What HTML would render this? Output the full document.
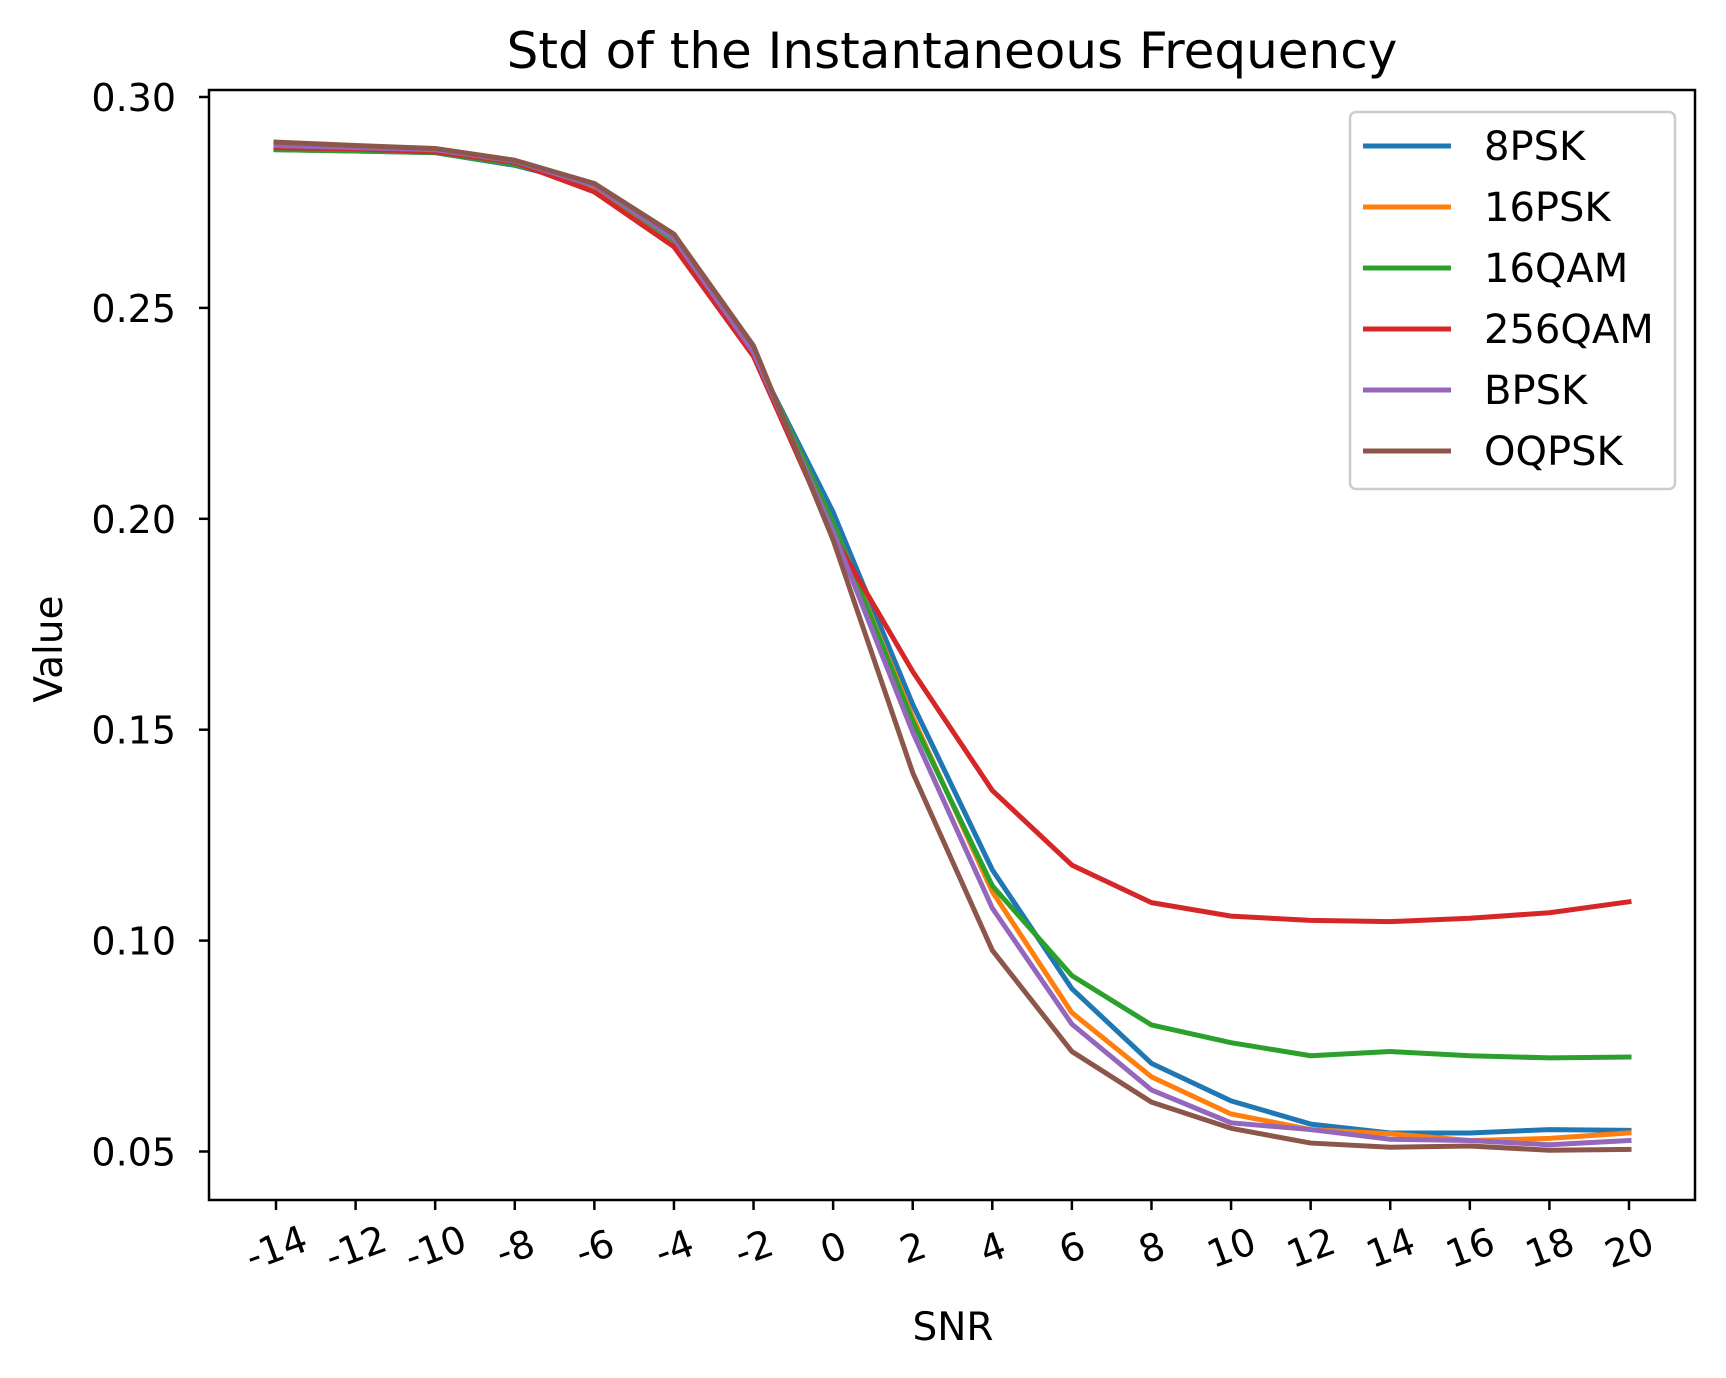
<!DOCTYPE html>
<html><head><meta charset="utf-8"><style>html,body{margin:0;padding:0;background:#fff}svg{display:block}</style></head>
<body>
<svg id="chart" width="1726" height="1378" xmlns="http://www.w3.org/2000/svg" font-family="'DejaVu Sans','Liberation Sans',sans-serif"></svg>
<script>
const snr = [-14,-12,-10,-8,-6,-4,-2,0,2,4,6,8,10,12,14,16,18,20];
const yTicks = [0.05,0.10,0.15,0.20,0.25,0.30];
const yTickLabels = ["0.05","0.10","0.15","0.20","0.25","0.30"];
const seriesNames = ["8PSK","16PSK","16QAM","256QAM","BPSK","OQPSK"];
const seriesColors = ["#1f77b4","#ff7f0e","#2ca02c","#d62728","#9467bd","#8c564b"];
const s8PSK   = [0.2875,0.2872,0.2868,0.2838,0.279,0.266,0.239,0.2016,0.156,0.1168,0.0886,0.0709,0.062,0.0565,0.0544,0.0544,0.0552,0.055];
const s16PSK  = [0.288,0.2875,0.287,0.2845,0.2785,0.266,0.2395,0.199,0.153,0.1116,0.0829,0.0677,0.0589,0.0552,0.0542,0.0526,0.0531,0.0544];
const s16QAM  = [0.2875,0.2872,0.2868,0.284,0.279,0.266,0.2395,0.199,0.152,0.113,0.0917,0.080,0.0758,0.0727,0.0737,0.0727,0.0722,0.0724];
const s256QAM = [0.288,0.2877,0.287,0.2845,0.2775,0.2645,0.2385,0.196,0.1638,0.1356,0.1179,0.109,0.1058,0.1048,0.1045,0.1053,0.1066,0.1092];
const sBPSK   = [0.2885,0.288,0.2875,0.2848,0.279,0.2665,0.2395,0.197,0.1494,0.1077,0.0802,0.0646,0.0568,0.0552,0.0529,0.0526,0.0516,0.0526];
const sOQPSK  = [0.2893,0.2885,0.2878,0.285,0.2795,0.2675,0.241,0.195,0.1398,0.0977,0.0737,0.0617,0.0555,0.052,0.051,0.0513,0.0503,0.0505];
const allSeries = [s8PSK,s16PSK,s16QAM,s256QAM,sBPSK,sOQPSK];

const L=209,R=1695,T=90,B=1200;
const x0=276,x1=1629;
function xs(v){return x0+(v-snr[0])/(snr[snr.length-1]-snr[0])*(x1-x0);}
function ys(v){return 1151.5-(v-0.05)/0.25*(1151.5-97);}
const NS="http://www.w3.org/2000/svg";
const svg=document.getElementById('chart');
function mk(tag,attrs,parent){const e=document.createElementNS(NS,tag);for(const k in attrs)e.setAttribute(k,attrs[k]);(parent||svg).appendChild(e);return e;}

allSeries.forEach((s,i)=>{
  const p=mk('polyline',{points:s.map((v,j)=>xs(snr[j])+','+ys(v)).join(' '),fill:'none',stroke:seriesColors[i],'stroke-width':5,'stroke-linejoin':'round','stroke-linecap':'square'});
  
  
});
const fr=mk('rect',{x:L,y:T,width:R-L,height:B-T,fill:'none',stroke:'#000','stroke-width':2.5});


yTicks.forEach((v,i)=>{
  const y=ys(v);
  const t=mk('line',{x1:L-10,x2:L,y1:y,y2:y,stroke:'#000','stroke-width':2.5});
  
  
  const tx=mk('text',{x:L-33,y:y+14,'text-anchor':'end','font-size':38,fill:'#000'});
  tx.textContent=yTickLabels[i];
  
  
});
snr.forEach(v=>{
  const x=xs(v);
  const t=mk('line',{x1:x,x2:x,y1:B,y2:B+10,stroke:'#000','stroke-width':2.5});
  
  
  const tx=mk('text',{x:x,y:1261,'text-anchor':'middle','font-size':38,fill:'#000',transform:'rotate(-20 '+x+' 1247)'});
  tx.textContent=String(v);
  
  
});
const ti=mk('text',{x:(L+R)/2,y:68,'text-anchor':'middle','font-size':50,fill:'#000'});
ti.textContent='Std of the Instantaneous Frequency';


const xl=mk('text',{x:953,y:1340,'text-anchor':'middle','font-size':39,fill:'#000'});
xl.textContent='SNR';


const yl=mk('text',{x:62,y:649,'text-anchor':'middle','font-size':39,fill:'#000',transform:'rotate(-90 62 649)'});
yl.textContent='Value';


const lg=mk('rect',{x:1350,y:112,width:325,height:377,rx:6,fill:'#fff','fill-opacity':0.8,stroke:'#ccc','stroke-width':2.5});


seriesNames.forEach((n,i)=>{
  const y=146+i*61;
  const l=mk('line',{x1:1363,x2:1451,y1:y,y2:y,stroke:seriesColors[i],'stroke-width':5});
  
  
  const t=mk('text',{x:1484,y:y+14,'font-size':40,fill:'#000'});
  t.textContent=n;
  
  
});
</script>
</body></html>
